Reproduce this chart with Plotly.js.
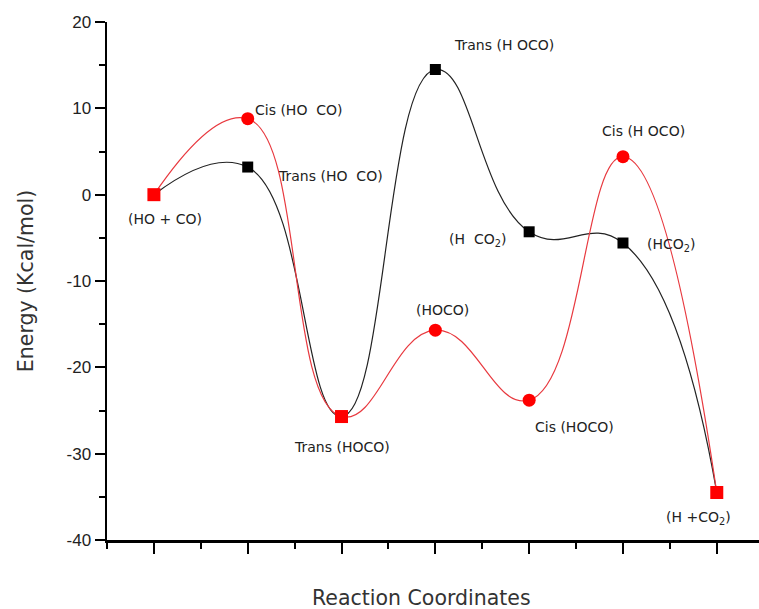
<!DOCTYPE html>
<html>
<head>
<meta charset="utf-8">
<script src="https://cdn.plot.ly/plotly-3.0.1.min.js"></script>
<style>html,body{margin:0;padding:0;background:#fff;}#chart{width:759px;height:609px;}</style>
</head>
<body>
<div id="chart"></div>
<script>
// Reaction coordinate positions (stationary points)
const steps = [1, 2, 3, 4, 5, 6, 7];
// Trans pathway energies (black squares), kcal/mol
const transEnergy = [0, 3.2, -25.7, 14.5, -4.3, -5.6, -34.5];
// Cis pathway energies (red circles), kcal/mol
const cisEnergy = [0, 8.8, -25.7, -15.7, -23.8, 4.4, -34.5];
// Y axis ticks
const yTickVals = [-40, -30, -20, -10, 0, 10, 20];
const yTickText = ["-40", "-30", "-20", "-10", "0", "10", "20"];
// Point labels
const labelText = [
  "(HO + CO)",
  "Cis (HO\u00a0\u00a0CO)",
  "Trans (HO\u00a0\u00a0CO)",
  "Trans (HOCO)",
  "(HOCO)",
  "Trans (H OCO)",
  "Cis (H OCO)",
  "(H\u00a0\u00a0CO<sub>2</sub>)",
  "(HCO<sub>2</sub>)",
  "Cis (HOCO)",
  "(H +CO<sub>2</sub>)"
];
const labelX = [1.12, 2.06, 2.3, 3.0, 4.08, 4.18, 5.76, 4.12, 6.24, 5.04, 6.8];
const labelY = [-2.8, 9.8, 2.2, -29.2, -13.4, 17.3, 7.4, -5.3, -5.8, -26.9, -37.4];
const labelAnchor = ["center", "left", "left", "center", "center", "left", "left", "left", "left", "left", "center"];

const traces = [
  {
    x: steps, y: transEnergy, type: "scatter", mode: "lines+markers",
    line: {shape: "spline", smoothing: 1.3, color: "#222222", width: 1.2},
    marker: {symbol: "square", size: 11, color: "#000000"},
    hoverinfo: "skip"
  },
  {
    x: steps, y: cisEnergy, type: "scatter", mode: "lines+markers",
    line: {shape: "spline", smoothing: 1.3, color: "#e8393f", width: 1.2},
    marker: {symbol: ["square", "circle", "square", "circle", "circle", "circle", "square"],
             size: 13, color: "#ff0000"},
    hoverinfo: "skip"
  }
];

const annotations = labelText.map((t, i) => ({
  x: labelX[i], y: labelY[i], xref: "x", yref: "y", text: t,
  showarrow: false, xanchor: labelAnchor[i], yanchor: "middle",
  font: {family: "DejaVu Sans, Verdana, sans-serif", size: 14, color: "#222222"}
}));
annotations.push({
  x: 0.483, y: (609 - 69 - 598) / (609 - 22 - 69), xref: "paper", yref: "paper",
  text: "Reaction Coordinates",
  showarrow: false, xanchor: "center", yanchor: "middle",
  font: {family: "DejaVu Sans, Verdana, sans-serif", size: 20.5, color: "#333333"}
});

const layout = {
  width: 759, height: 609,
  margin: {l: 107, r: 0, t: 22, b: 69},
  paper_bgcolor: "#ffffff", plot_bgcolor: "#ffffff",
  showlegend: false,
  xaxis: {
    range: [0.5, 7.45], showgrid: false, zeroline: false,
    showline: true, linecolor: "#000000", linewidth: 2.5,
    ticks: "outside", ticklen: 11, tickwidth: 2, tickcolor: "#000000",
    tickmode: "array", tickvals: steps, showticklabels: false,
    minor: {ticks: "outside", ticklen: 6, tickwidth: 2, tickcolor: "#000000", tick0: 0.5, dtick: 1, showgrid: false}
  },
  yaxis: {
    range: [-40, 20], showgrid: false, zeroline: false,
    showline: true, linecolor: "#000000", linewidth: 2.5,
    ticks: "outside", ticklen: 10, tickwidth: 2, tickcolor: "#000000",
    tickmode: "array", tickvals: yTickVals, ticktext: yTickText,
    tickfont: {family: "Liberation Sans, Arial, sans-serif", size: 17, color: "#222222"},
    minor: {ticks: "outside", ticklen: 6, tickwidth: 2, tickcolor: "#000000", dtick: 5, showgrid: false},
    title: {text: "Energy (Kcal/mol)", standoff: 28,
            font: {family: "DejaVu Sans, Verdana, sans-serif", size: 20.5, color: "#333333"}}
  },
  annotations: annotations
};

Plotly.newPlot("chart", traces, layout, {displayModeBar: false, staticPlot: true});
</script>
</body>
</html>
